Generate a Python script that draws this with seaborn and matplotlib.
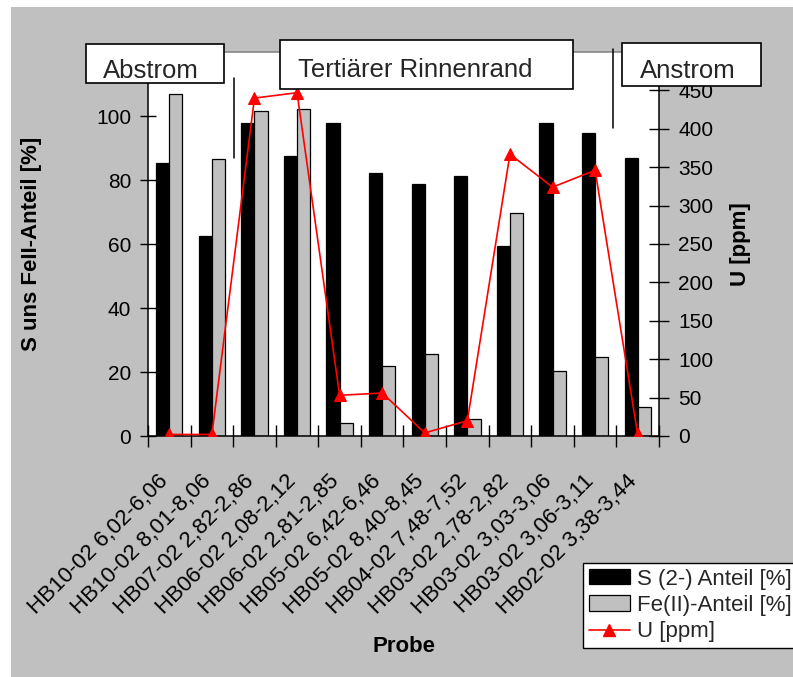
import numpy as np
import pandas as pd
import matplotlib
matplotlib.use("Agg")
import matplotlib.pyplot as plt
import seaborn as sns
from matplotlib.patches import Rectangle, Patch
from matplotlib.lines import Line2D

# --- data -----------------------------------------------------------------
proben = [
    "HB10-02 6,02-6,06", "HB10-02 8,01-8,06", "HB07-02 2,82-2,86",
    "HB06-02 2,08-2,12", "HB06-02 2,81-2,85", "HB05-02 6,42-6,46",
    "HB05-02 8,40-8,45", "HB04-02 7,48-7,52", "HB03-02 2,78-2,82",
    "HB03-02 3,03-3,06", "HB03-02 3,06-3,11", "HB02-02 3,38-3,44",
]
s_anteil = [85.2, 62.5, 97.7, 87.6, 97.7, 82.2, 78.8, 81.2, 59.4, 97.7, 94.8, 86.8]
fe_anteil = [106.9, 86.6, 101.7, 102.1, 4.2, 22.0, 25.6, 5.3, 69.7, 20.2, 24.7, 9.1]
u_ppm = [2, 2, 440, 447, 53, 56, 4, 20, 367, 324, 346, 2]

serie_s = "S (2-) Anteil [%]"
serie_fe = "Fe(II)-Anteil [%]"
serie_u = "U [ppm]"

y_left_ticks = [0, 20, 40, 60, 80, 100, 120]
y_right_ticks = [0, 50, 100, 150, 200, 250, 300, 350, 400, 450, 500]

# --- style ----------------------------------------------------------------
sns.set_theme(style="ticks")
plt.rcParams["font.family"] = ["Liberation Sans", "DejaVu Sans"]

W, H = 793, 677
GRAY = "#c0c0c0"

fig = plt.figure(figsize=(W / 100, H / 100), dpi=100)
fig.patch.set_facecolor("white")
fig.add_artist(Rectangle((11 / W, 0), 1, 1 - 7 / H, transform=fig.transFigure,
                         facecolor=GRAY, edgecolor="none", zorder=-10))

ax = fig.add_axes([148 / W, 1 - 436 / H, 511 / W, 384 / H])
ax.set_facecolor("white")

df = pd.DataFrame({
    "Probe": proben * 2,
    "Serie": [serie_s] * len(proben) + [serie_fe] * len(proben),
    "Wert": s_anteil + fe_anteil,
})
sns.barplot(data=df, x="Probe", y="Wert", hue="Serie",
            palette=["black", GRAY], saturation=1, width=0.62,
            edgecolor="black", linewidth=0.9, errorbar=None,
            legend=False, ax=ax)

ax2 = ax.twinx()
sns.lineplot(x=np.arange(len(proben)), y=u_ppm, ax=ax2, color="red",
             marker="^", markersize=8, markeredgecolor="red",
             linewidth=1.2, legend=False)

# --- axes -----------------------------------------------------------------
ax.set_xlim(-0.5, len(proben) - 0.5)
ax.set_ylim(0, 120)
ax.set_yticks(y_left_ticks)
ax2.set_ylim(0, 500)
ax2.set_yticks(y_right_ticks)

ax.set_xticks(np.arange(len(proben)))
ax.set_xticklabels(proben, rotation=45, ha="right", va="baseline",
                   rotation_mode="anchor", fontsize=16)
ax.set_xticks(np.arange(-0.5, len(proben), 1), minor=True)
ax.tick_params(axis="x", which="major", length=0, pad=33, colors="black")
ax.tick_params(axis="x", which="minor", length=16, width=1,
               direction="inout", color="black", bottom=True)
ax.tick_params(axis="y", length=12, width=1, direction="inout",
               labelsize=15, pad=6, colors="black", left=True)
ax2.tick_params(axis="y", length=14, width=1, direction="inout",
                labelsize=15, pad=7, colors="black", right=True)

for name, sp in ax.spines.items():
    sp.set_color("black")
    sp.set_linewidth(1.1)
ax.spines["right"].set_visible(False)
ax.spines["top"].set_color("#808080")
for name in ("left", "top", "bottom"):
    ax2.spines[name].set_visible(False)
ax2.spines["right"].set_color("black")
ax2.spines["right"].set_linewidth(1.1)

ax.set_xlabel("Probe", fontsize=16, fontweight="bold", color="black")
ax.xaxis.set_label_coords(0.501, -0.521)
ax.set_ylabel("S uns FeII-Anteil [%]", fontsize=16, fontweight="bold",
              color="black")
ax.yaxis.set_label_coords(-0.207, 0.5)
ax2.set_ylabel(serie_u, fontsize=16, fontweight="bold", color="black")
ax2.yaxis.set_label_coords(1.139, 0.5)

# --- zone labels and separators ---------------------------------------------
def px_box(x0, y0, x1, y1):
    return Rectangle((x0 / W, 1 - y1 / H), (x1 - x0) / W, (y1 - y0) / H,
                     transform=fig.transFigure, facecolor="white",
                     edgecolor="black", linewidth=1.2, zorder=5)

def px_vline(x, y0, y1):
    return Line2D([x / W, x / W], [1 - y0 / H, 1 - y1 / H],
                  transform=fig.transFigure, color="black", linewidth=1.1,
                  zorder=4)

fig.add_artist(px_vline(234, 78, 158))
fig.add_artist(px_vline(613, 49, 128))

fig.add_artist(px_box(86, 44, 224, 83))
fig.add_artist(px_box(280, 40, 573, 89))
fig.add_artist(px_box(622, 43, 761, 86))
fig.text(103 / W, 1 - 78 / H, "Abstrom", fontsize=18.5, ha="left",
         va="baseline", zorder=6)
fig.text(298 / W, 1 - 77 / H, "Tertiärer Rinnenrand", fontsize=18.5,
         ha="left", va="baseline", zorder=6)
fig.text(640 / W, 1 - 78 / H, "Anstrom", fontsize=18.5, ha="left",
         va="baseline", zorder=6)

# --- legend -----------------------------------------------------------------
handles = [
    Patch(facecolor="black", edgecolor="black", linewidth=0.9),
    Patch(facecolor=GRAY, edgecolor="black", linewidth=0.9),
    Line2D([], [], color="red", marker="^", markersize=8,
           markeredgecolor="red", linewidth=1.2),
]
leg = fig.legend(handles, [serie_s, serie_fe, serie_u], loc="upper left",
                 bbox_to_anchor=(583 / W, 1 - 563 / H),
                 bbox_transform=fig.transFigure, borderaxespad=0,
                 fontsize=16, frameon=True, fancybox=False,
                 edgecolor="black", framealpha=1, handlelength=1.85,
                 handleheight=0.68, handletextpad=0.35, labelspacing=0.24,
                 borderpad=0.25)
leg.get_frame().set_linewidth(1)
leg.set_zorder(7)

fig.savefig("out.png", dpi=100)
